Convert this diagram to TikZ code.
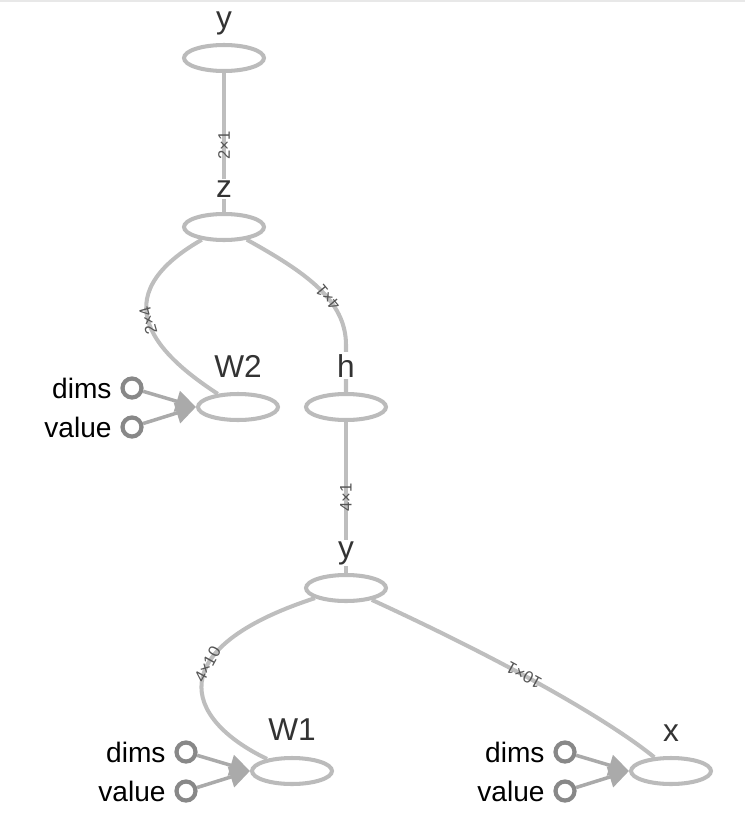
\documentclass[tikz,border=0pt]{standalone}
\usepackage{fontspec}
\setmainfont{Liberation Sans}
\usetikzlibrary{shapes.geometric,arrows.meta,backgrounds,positioning}
\definecolor{opgray}{RGB}{187,187,187}
\definecolor{edgegray}{RGB}{190,190,190}
\definecolor{tipgray}{RGB}{170,170,170}
\definecolor{dotgray}{RGB}{136,136,136}
\definecolor{namegray}{RGB}{51,51,51}
\definecolor{labelgray}{RGB}{85,85,85}
\definecolor{framegray}{RGB}{232,232,232}
\tikzset{
  opnode/.style={draw=opgray,line width=2.3pt,ellipse,minimum width=1.6cm,minimum height=0.52cm,inner sep=0pt},
  opname/.style={anchor=base,text=namegray,font=\fontsize{18}{21}\selectfont,fill=white,inner sep=1pt},
  constdot/.style={draw=dotgray,line width=2.4pt,circle,minimum size=0.38cm,inner sep=0pt},
  constname/.style={text=black,font=\fontsize{16}{19}\selectfont,inner sep=0pt},
  flow/.style={draw=edgegray,line width=2.3pt},
  shapelabel/.style={text=labelgray,font=\fontsize{9.5}{11}\selectfont,sloped,allow upside down,inner sep=0pt},
  feed/.style={draw=tipgray,line width=2pt,-{Triangle[length=0.4cm,width=0.42cm]}}
}
\begin{document}
\begin{tikzpicture}[x=0.02cm,y=-0.02cm]
    \useasboundingbox (0,0) rectangle (745,835);
    \draw[framegray,line width=1.5pt] (0,1) -- (745,1);

    % ops
    \node[opnode] (ytop) at (224,58) {};
    \node[opnode] (z) at (224,227) {};
    \node[opnode] (W2) at (238,407) {};
    \node[opnode] (h) at (346,407) {};
    \node[opnode] (ymm) at (346,588) {};
    \node[opnode] (W1) at (292,771) {};
    \node[opnode] (x) at (671,771) {};

    \node[opname] (ytopname) at ([yshift=0.6cm]ytop.center) {y};
    \node[opname] (zname) at ([yshift=0.6cm]z.center) {z};
    \node[opname] (W2name) at ([yshift=0.6cm]W2.center) {W2};
    \node[opname] (hname) at ([yshift=0.6cm]h.center) {h};
    \node[opname] (ymmname) at ([yshift=0.6cm]ymm.center) {y};
    \node[opname] (W1name) at ([yshift=0.62cm]W1.center) {W1};
    \node[opname] (xname) at ([yshift=0.6cm]x.center) {x};

    % constant inputs
    \foreach \op in {W2,W1,x} {
        \node[constdot] (dims\op) at ([shift={(-106,-19)}]\op.center) {};
        \node[constdot] (value\op) at ([shift={(-106,20)}]\op.center) {};
        \node[constname,left=0.17cm of dims\op] (dimsname\op) {dims};
        \node[constname,left=0.17cm of value\op] (valuename\op) {value};
        \draw[feed] (dims\op) -- (\op.west);
        \draw[feed] (value\op) -- (\op.west);
    }

    % edges
    \begin{scope}[on background layer]
        \draw[flow] (z) -- (ytop) node[shapelabel,pos=0.48]{2×1};
        \draw[flow] (h.north) -- (346,345) .. controls (346,300) and (305,272) .. (z)
            node[shapelabel,pos=0.4]{4×1};
        \draw[flow] (W2) .. controls (158,355) and (100,298) .. (z)
            node[shapelabel,pos=0.52]{2×4};
        \draw[flow] (ymm) -- (h) node[shapelabel,pos=0.5]{4×1};
        \draw[flow] (W1) .. controls (182,718) and (162,648) .. (ymm)
            node[shapelabel,pos=0.6]{4×10};
        \draw[flow] (x) .. controls (615,725) and (520,668) .. (ymm)
            node[shapelabel,pos=0.6]{10×1};
    \end{scope}
\end{tikzpicture}
\end{document}
